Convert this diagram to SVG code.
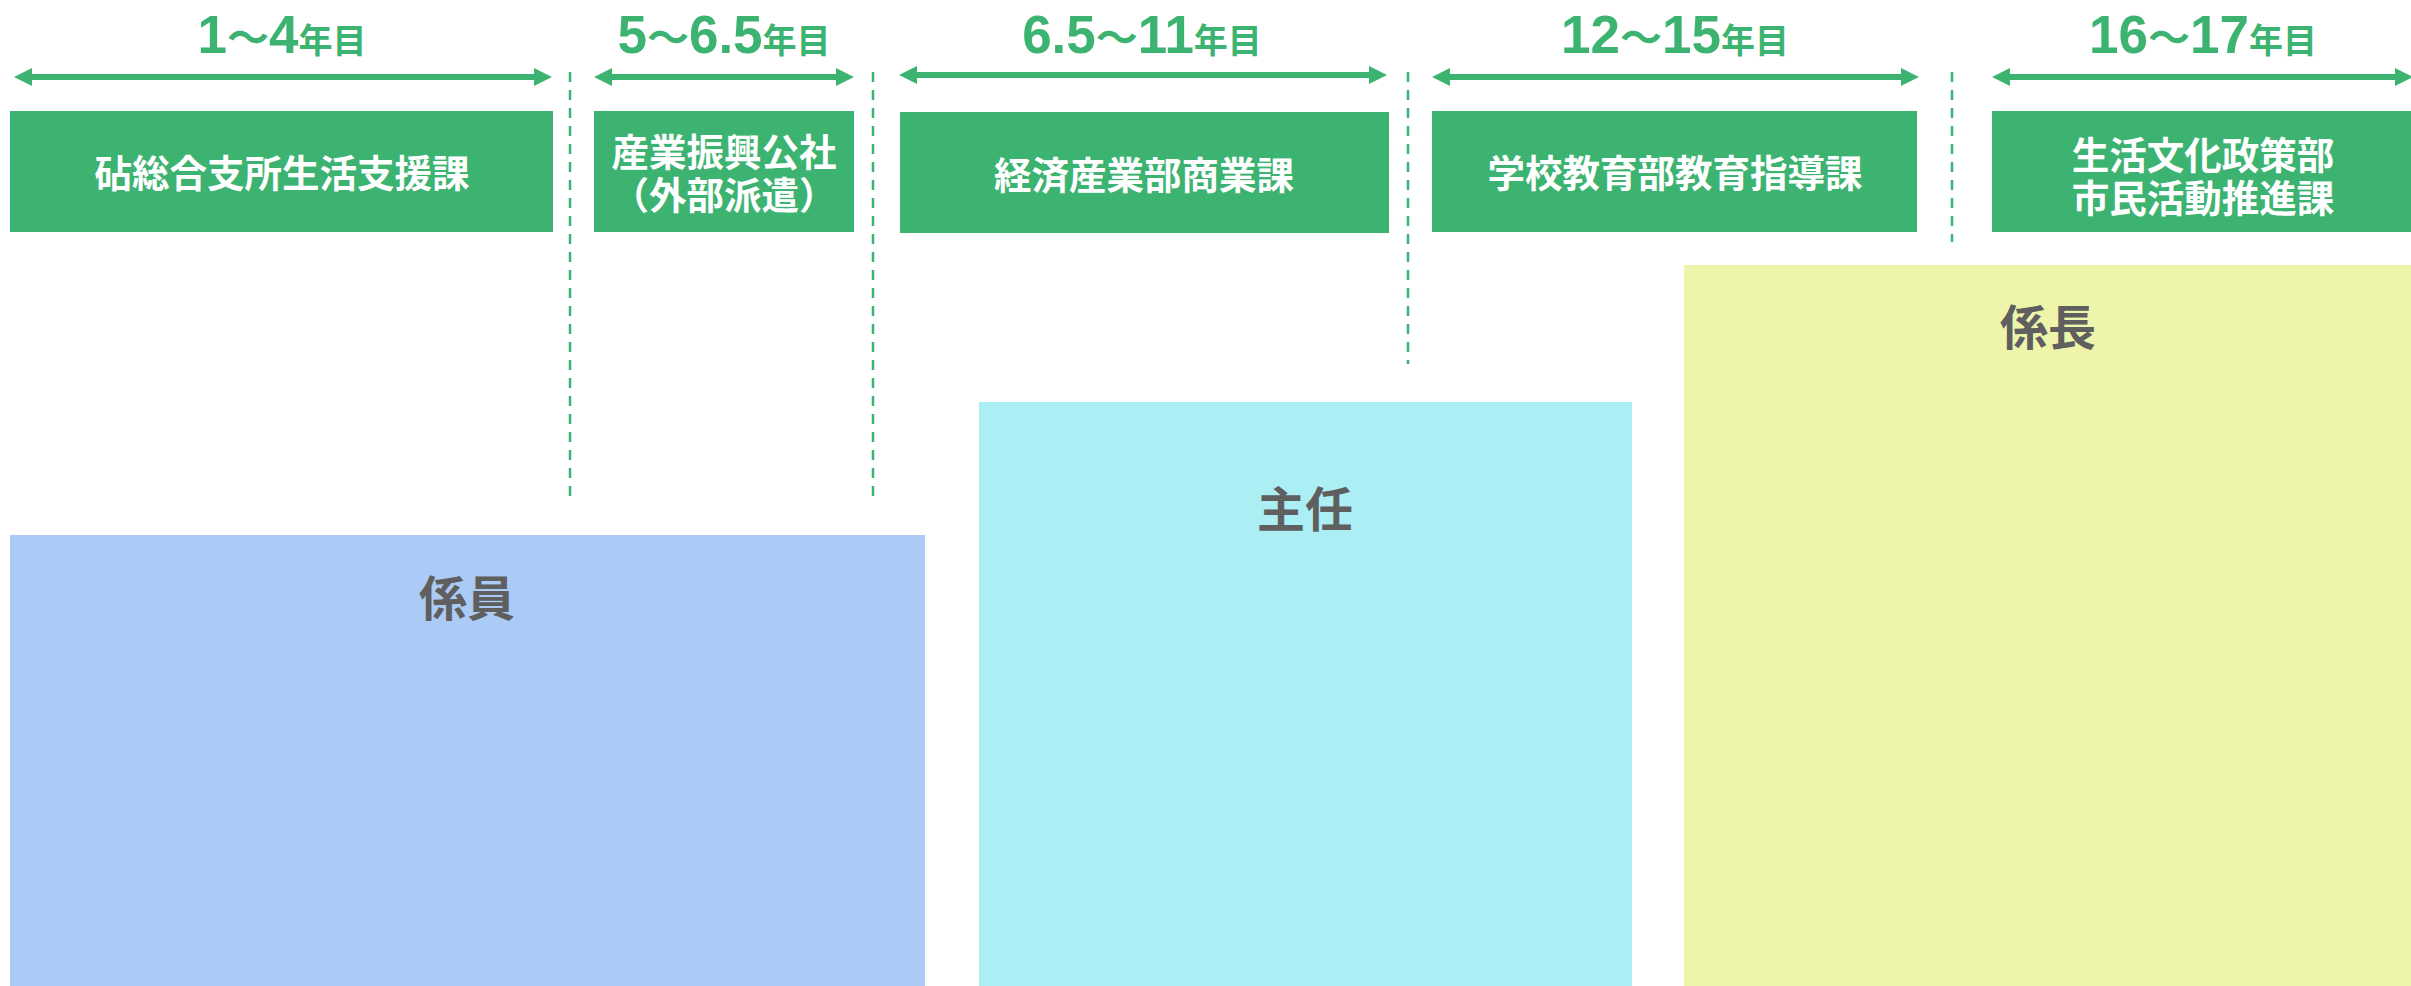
<svg xmlns="http://www.w3.org/2000/svg" width="2411" height="986" viewBox="0 0 2411 986">
<style>
.box{fill:#3db371}
.bt{font-family:"Noto Sans CJK JP","Liberation Sans",sans-serif;font-weight:700;font-size:37.5px;fill:#ffffff;text-anchor:middle}
.tt{font-family:"Liberation Sans","Noto Sans CJK JP",sans-serif;font-weight:700;font-size:53px;fill:#3db371;text-anchor:middle}
.ty{font-family:"Noto Sans CJK JP",sans-serif;font-size:34px}
.tl{font-family:"Noto Sans CJK JP",sans-serif;font-size:42px}
.lv{font-family:"Noto Sans CJK JP","Liberation Sans",sans-serif;font-weight:700;font-size:48px;fill:#5f5f5f;text-anchor:middle}
.arr{stroke:#3db371;stroke-width:6;fill:none;marker-start:url(#ah);marker-end:url(#ah)}
.dash{stroke:#3db371;stroke-width:2.5;stroke-dasharray:10 8;fill:none}
</style>
<defs>
<marker id="ah" viewBox="0 0 18 18" refX="4" refY="9" markerWidth="18" markerHeight="18" markerUnits="userSpaceOnUse" orient="auto-start-reverse">
<path d="M0,0 L18,9 L0,18 z" fill="#3db371"/>
</marker>
</defs>
<rect width="2411" height="986" fill="#ffffff"/>
<g id="levels">
<g id="level-kakariin"><rect x="10" y="535" width="915" height="460" fill="#abcaf5"/><text class="lv" x="467" y="616">係員</text></g>
<g id="level-shunin"><rect x="979" y="402" width="653" height="600" fill="#abeef3"/><text class="lv" x="1305" y="527">主任</text></g>
<g id="level-kakaricho"><rect x="1684" y="265" width="740" height="740" fill="#eef5ab"/><text class="lv" x="2048" y="345">係長</text></g>
</g>
<g id="connectors">
<line class="dash" x1="570" y1="72" x2="570" y2="503"/>
<line class="dash" x1="873" y1="72" x2="873" y2="503"/>
<line class="dash" x1="1408" y1="72" x2="1408" y2="364"/>
<line class="dash" x1="1952" y1="72" x2="1952" y2="242"/>
<line class="arr" x1="28" y1="77" x2="538" y2="77"/>
<line class="arr" x1="608" y1="77" x2="840" y2="77"/>
<line class="arr" x1="913" y1="75" x2="1373" y2="75"/>
<line class="arr" x1="1446" y1="77" x2="1905" y2="77"/>
<line class="arr" x1="2006" y1="77" x2="2399" y2="77"/>
</g>
<g id="period1">
<text class="tt" x="282" y="53">1<tspan class="tl">～</tspan>4<tspan class="ty">年目</tspan></text>
<rect class="box" x="10" y="111" width="543" height="121"/>
<text class="bt" x="282" y="187">砧総合支所生活支援課</text>
</g>
<g id="period2">
<text class="tt" x="724" y="53">5<tspan class="tl">～</tspan>6.5<tspan class="ty">年目</tspan></text>
<rect class="box" x="594" y="111" width="260" height="121"/>
<text class="bt" x="724" y="166">産業振興公社</text>
<text class="bt" x="724" y="209">（外部派遣）</text>
</g>
<g id="period3">
<text class="tt" x="1142" y="53">6.5<tspan class="tl">～</tspan>11<tspan class="ty">年目</tspan></text>
<rect class="box" x="900" y="112" width="489" height="121"/>
<text class="bt" x="1144" y="189">経済産業部商業課</text>
</g>
<g id="period4">
<text class="tt" x="1675" y="53">12<tspan class="tl">～</tspan>15<tspan class="ty">年目</tspan></text>
<rect class="box" x="1432" y="111" width="485" height="121"/>
<text class="bt" x="1675" y="187">学校教育部教育指導課</text>
</g>
<g id="period5">
<text class="tt" x="2203" y="53">16<tspan class="tl">～</tspan>17<tspan class="ty">年目</tspan></text>
<rect class="box" x="1992" y="111" width="430" height="121"/>
<text class="bt" x="2203" y="169">生活文化政策部</text>
<text class="bt" x="2203" y="212">市民活動推進課</text>
</g>
</svg>
